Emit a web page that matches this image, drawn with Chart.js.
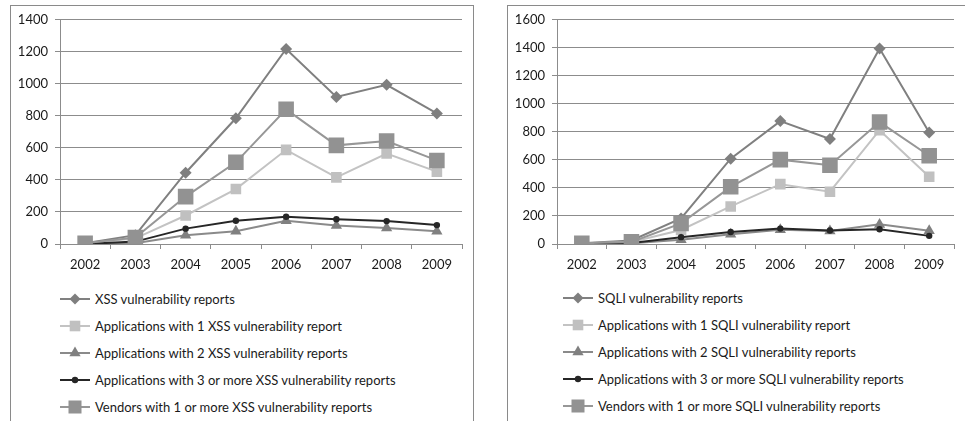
<!DOCTYPE html>
<html>
<head>
<meta charset="utf-8">
<script src="https://cdn.jsdelivr.net/npm/chart.js@4.4.1/dist/chart.umd.min.js"></script>
<style>
    body { margin: 0; width: 965px; height: 421px; overflow: hidden; background: #fff; font-family: Lato, "Open Sans", sans-serif; }
    .box { position: absolute; top: 5px; height: 440px; border: 1px solid #8a8a8a; box-sizing: border-box; }
    .chart-wrap { position: absolute; }
    .legend { position: absolute; font-size: 13px; color: #1a1a1a; }
    .legend-row { position: absolute; left: 0; height: 16px; white-space: nowrap; display: flex; align-items: center; }
    .legend-row svg { margin-right: 4px; }
</style>
</head>
<body>
<div class="box" style="left:10px; width:464px;"></div>
<div class="box" style="left:507px; width:480px;"></div>

<div class="chart-wrap" style="left:10px; top:5px; width:463px; height:265px;"><canvas id="xss-chart"></canvas></div>
<div class="chart-wrap" style="left:507px; top:5px; width:458px; height:265px;"><canvas id="sqli-chart"></canvas></div>

<div class="legend" id="xss-legend" style="left:60px; top:291px;"></div>
<div class="legend" id="sqli-legend" style="left:563px; top:290px;"></div>

<script>
// Years on the x axis
const years = ['2002', '2003', '2004', '2005', '2006', '2007', '2008', '2009'];

// XSS chart values
const xssReports = [5, 55, 445, 785, 1218, 918, 994, 815];
const xssApps1 = [3, 35, 178, 343, 588, 416, 565, 452];
const xssApps2 = [0, 5, 55, 80, 145, 116, 100, 80];
const xssApps3 = [0, 15, 96, 145, 170, 155, 143, 118];
const xssVendors = [5, 40, 296, 510, 841, 616, 643, 522];
const xssTicks = [0, 200, 400, 600, 800, 1000, 1200, 1400];

// SQLI chart values
const sqliReports = [5, 25, 182, 609, 877, 749, 1395, 795];
const sqliApps1 = [3, 15, 100, 268, 427, 373, 812, 480];
const sqliApps2 = [0, 5, 30, 70, 102, 93, 140, 95];
const sqliApps3 = [0, 8, 49, 86, 110, 96, 105, 58];
const sqliVendors = [5, 15, 147, 408, 602, 562, 870, 630];
const sqliTicks = [0, 200, 400, 600, 800, 1000, 1200, 1400, 1600];

const xssLabels = [
    'XSS vulnerability reports',
    'Applications with 1 XSS vulnerability report',
    'Applications with 2 XSS vulnerability reports',
    'Applications with 3 or more XSS vulnerability reports',
    'Vendors with 1 or more XSS vulnerability reports'
];
const sqliLabels = [
    'SQLI vulnerability reports',
    'Applications with 1 SQLI vulnerability report',
    'Applications with 2 SQLI vulnerability reports',
    'Applications with 3 or more SQLI vulnerability reports',
    'Vendors with 1 or more SQLI vulnerability reports'
];

// Series looks: line colour, marker colour, marker shape and size, draw order
const seriesStyles = [
    { line: '#808080', fill: '#7f7f7f', shape: 'rectRot', radius: 6, order: 4 },
    { line: '#c3c3c3', fill: '#c0c0c0', shape: 'rect', radius: 7.5, order: 3 },
    { line: '#8a8a8a', fill: '#808080', shape: 'triangle', radius: 6.5, order: 2 },
    { line: '#262626', fill: '#262626', shape: 'circle', radius: 3.2, order: 1 },
    { line: '#979797', fill: '#929292', shape: 'rect', radius: 11, order: 0 }
];

const gridColor = '#8c8c8c';
const fontSpec = { family: 'Lato, "Open Sans", sans-serif', size: 13 };

function buildChart(canvasId, seriesData, labels, ticks) {
    const datasets = seriesData.map((values, i) => {
        const s = seriesStyles[i];
        return {
            label: labels[i],
            data: values,
            borderColor: s.line,
            backgroundColor: s.fill,
            pointBackgroundColor: s.fill,
            pointBorderColor: s.fill,
            pointBorderWidth: 0,
            pointStyle: s.shape,
            pointRadius: s.radius,
            borderWidth: 2,
            tension: 0,
            order: s.order
        };
    });

    return new Chart(document.getElementById(canvasId), {
        type: 'line',
        data: { labels: years, datasets: datasets },
        options: {
            responsive: true,
            maintainAspectRatio: false,
            animation: false,
            layout: { padding: { top: 10, right: canvasId === 'xss-chart' ? 10 : 5, left: 0, bottom: 0 } },
            plugins: {
                legend: { display: false },
                tooltip: { enabled: false }
            },
            scales: {
                x: {
                    offset: true,
                    grid: {
                        offset: true,
                        drawOnChartArea: false,
                        drawTicks: true,
                        tickLength: 5,
                        color: gridColor
                    },
                    border: { display: true, color: gridColor },
                    ticks: { color: '#1a1a1a', font: fontSpec, padding: 8, maxRotation: 0 },
                    afterFit: function(scale) { scale.height = 26; }
                },
                y: {
                    min: 0,
                    max: ticks[ticks.length - 1],
                    afterBuildTicks: function(scale) {
                        scale.ticks = ticks.map(v => ({ value: v }));
                    },
                    grid: {
                        drawTicks: true,
                        tickLength: 5,
                        color: gridColor
                    },
                    border: { display: true, color: gridColor },
                    ticks: {
                        color: '#1a1a1a',
                        font: fontSpec,
                        padding: 7,
                        callback: function(value) { return String(value); }
                    },
                    afterFit: function(scale) { scale.width = 50; }
                }
            }
        }
    });
}

// Small line + marker sample for the legend rows
function legendSample(style) {
    const c = style.fill;
    let marker = '';
    const cx = 15, cy = 8;
    if (style.shape === 'rectRot') {
        marker = `<polygon points="${cx},${cy - 5.5} ${cx + 5.5},${cy} ${cx},${cy + 5.5} ${cx - 5.5},${cy}" fill="${c}"/>`;
    } else if (style.shape === 'rect') {
        const h = Math.min(style.radius * Math.SQRT1_2, 6.5);
        marker = `<rect x="${cx - h}" y="${cy - h}" width="${2 * h}" height="${2 * h}" fill="${c}"/>`;
    } else if (style.shape === 'triangle') {
        const r = style.radius;
        marker = `<polygon points="${cx},${cy - r} ${cx + r * 0.866},${cy + r / 2} ${cx - r * 0.866},${cy + r / 2}" fill="${c}"/>`;
    } else {
        marker = `<circle cx="${cx}" cy="${cy}" r="${style.radius}" fill="${c}"/>`;
    }
    return `<svg width="31" height="16"><line x1="0" y1="${cy}" x2="30" y2="${cy}" stroke="${style.line}" stroke-width="2"/>${marker}</svg>`;
}

function buildLegend(elId, labels) {
    const el = document.getElementById(elId);
    labels.forEach((text, i) => {
        const row = document.createElement('div');
        row.className = 'legend-row';
        row.style.top = (i * 27) + 'px';
        row.innerHTML = legendSample(seriesStyles[i]) + '<span>' + text + '</span>';
        el.appendChild(row);
    });
}

buildChart('xss-chart', [xssReports, xssApps1, xssApps2, xssApps3, xssVendors], xssLabels, xssTicks);
buildChart('sqli-chart', [sqliReports, sqliApps1, sqliApps2, sqliApps3, sqliVendors], sqliLabels, sqliTicks);
buildLegend('xss-legend', xssLabels);
buildLegend('sqli-legend', sqliLabels);
</script>
</body>
</html>
